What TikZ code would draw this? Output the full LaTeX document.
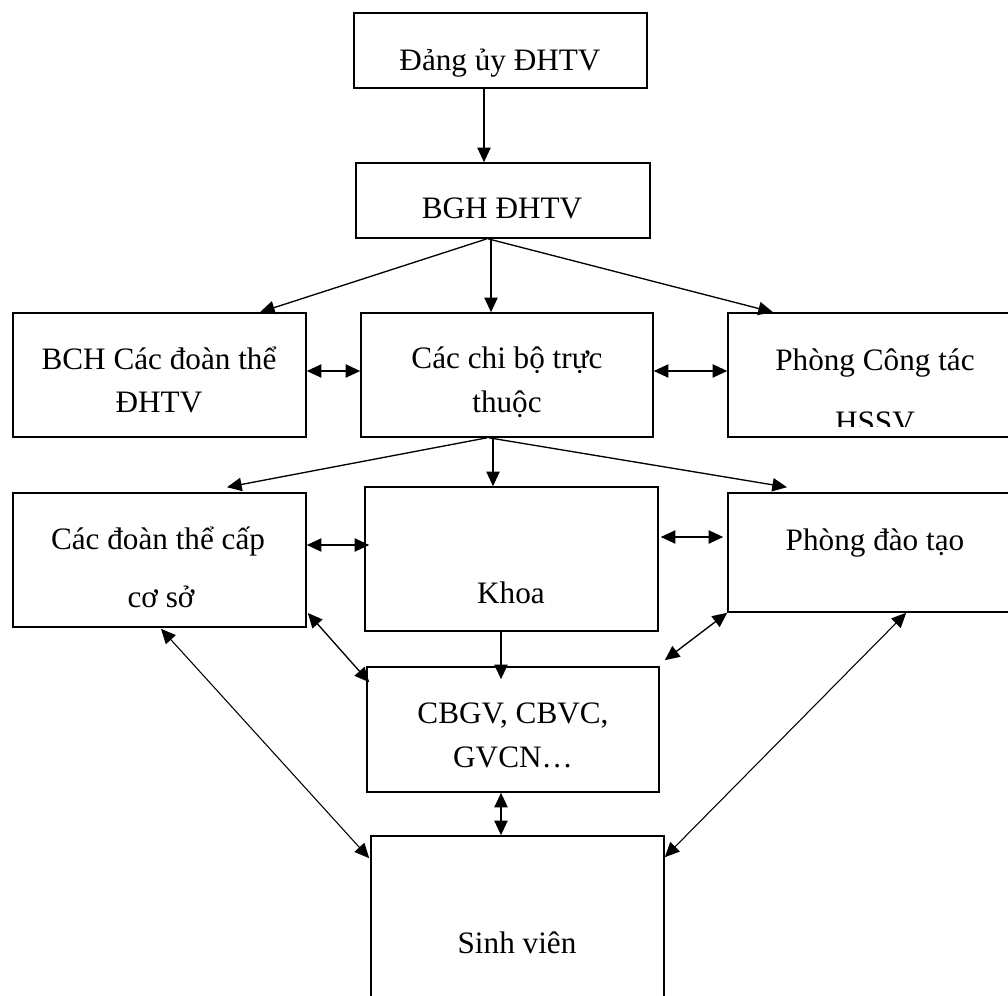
\documentclass[tikz,border=0pt]{standalone}
\usepackage{fontspec}
\setmainfont{Liberation Serif}
\usetikzlibrary{arrows.meta,calc,fit}
\tikzset{
  box/.style={draw, line width=1.2pt, inner sep=0pt, rectangle},
  txt/.style={inner sep=0pt, anchor=base, font=\fontsize{23.4}{28}\selectfont},
  arr/.style={line width=1pt, -{Triangle[length=11pt,width=10pt]}},
  darr/.style={line width=1pt, {Triangle[length=11pt,width=10pt]}-{Triangle[length=11pt,width=10pt]}},
  thinarr/.style={line width=0.8pt, {Triangle[length=11pt,width=10pt]}-{Triangle[length=11pt,width=10pt]}},
  plain/.style={line width=1pt}
}
\begin{document}
\begin{tikzpicture}[x=0.75pt,y=-0.75pt]
\clip (0,0) rectangle (1008,996);
\fill[white] (0,0) rectangle (1008,996);
% boxes
\node[box, fit={(354,13) (647,88)}] (dang) {};
\node[box, fit={(356,163) (650,238)}] (bgh) {};
\node[box, fit={(13,313) (306,437)}] (bch) {};
\node[box, fit={(361,313) (653,437)}] (chibo) {};
\node[box, fit={(728,313) (1022,437)}] (pct) {};
\node[box, fit={(13,493) (306,627)}] (cdt) {};
\node[box, fit={(365,487) (658,631)}] (khoa) {};
\node[box, fit={(728,493) (1022,612)}] (pdt) {};
\node[box, fit={(367,667) (659,792)}] (cbgv) {};
\node[box, fit={(371,836) (664,1010)}] (sv) {};
% texts
\node[txt] (tdang) at (500,70) {Đảng ủy ĐHTV};
\node[txt] (tbgh) at (502,218) {BGH ĐHTV};
\node[txt] (tbch1) at (159,369) {BCH Các đoàn thể};
\node[txt] (tbch2) at (159,412) {ĐHTV};
\node[txt] (tcb1) at (507,368) {Các chi bộ trực};
\node[txt] (tcb2) at (507,412) {thuộc};
\node[txt] (tpct1) at (875,370) {Phòng Công tác};
\begin{scope}
\clip (728,313) rectangle (1022,426);
\node[txt] (tpct2) at (875,432) {HSSV};
\end{scope}
\node[txt] (tcdt1) at (158,549) {Các đoàn thể cấp};
\node[txt] (tcdt2) at (161,607) {cơ sở};
\node[txt] (tkhoa) at (511,603) {Khoa};
\node[txt] (tpdt) at (875,550) {Phòng đào tạo};
\node[txt] (tcbgv1) at (513,723) {CBGV, CBVC,};
\node[txt] (tcbgv2) at (513,767) {GVCN…};
\node[txt] (tsv) at (517,953) {Sinh viên};
% connectors
\draw[arr] ($(dang.south)+(-16.5,0)$) -- ($(bgh.north)+(-19,0)$);
\draw[arr] ($(bgh.south)+(-16,0)$) -- ($(bch.north)+(100.5,0)$);
\draw[arr] ($(bgh.south)+(-12,0)$) -- ($(chibo.north)+(-16,0)$);
\draw[arr] ($(bgh.south)+(-15,0)$) -- ($(pct.north)+(-102,0)$);
\draw[darr] (bch.east |- 0,371) -- (chibo.west |- 0,371);
\draw[darr] (chibo.east |- 0,371) -- (pct.west |- 0,371);
\draw[arr] ($(chibo.south)+(-20,0)$) -- ($(cdt.north)+(67.5,-5)$);
\draw[arr] ($(chibo.south)+(-14,0)$) -- ($(khoa.north)+(-18.5,0)$);
\draw[arr] ($(chibo.south)+(-18,0)$) -- ($(pdt.north)+(-88,-5)$);
\draw[darr] (cdt.east |- 0,545) -- ($(khoa.west |- 0,545)+(5,0)$);
\draw[darr] ($(khoa.east |- 0,537)+(2,0)$) -- ($(pdt.west |- 0,537)+(-4,0)$);
\draw[arr] ($(khoa.south)+(-10.5,0)$) -- ($(cbgv.north)+(-12,13)$);
\draw[darr] ($(cdt.east)+(1,53)$) -- ($(cbgv.north west)+(3,16)$);
\draw[darr] (pdt.south west) -- ($(cbgv.north east)+(5,-6)$);
\draw[thinarr] ($(cdt.south)+(1.5,1)$) -- ($(sv.north west)+(-1,23)$);
\draw[thinarr] ($(pdt.south west)+(179,0)$) -- ($(sv.north east)+(0,22)$);
\draw[darr] ($(cbgv.south)+(-12,0)$) -- (sv.north -| cbgv.south -| 501,0);
\end{tikzpicture}
\end{document}
